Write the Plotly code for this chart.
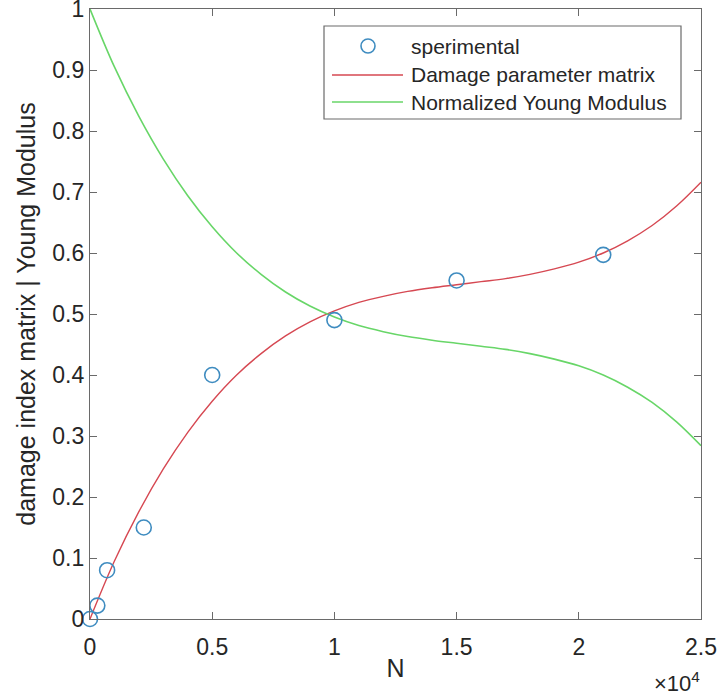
import plotly.graph_objects as go

# ---- data ----
N_exp = [0, 300, 700, 2200, 5000, 10000, 15000, 21000]
D_exp = [0.0, 0.022, 0.080, 0.150, 0.400, 0.490, 0.555, 0.597]

N_fit = [0, 1000, 2000, 3000, 4000, 5000, 6000, 7000, 8000, 9000, 10000,
         11000, 12000, 13000, 14000, 15000, 16000, 17000, 18000, 19000, 20000,
         21000, 22000, 23000, 24000, 25000]
D_fit = [0.000, 0.095, 0.176, 0.246, 0.306, 0.357, 0.400, 0.435, 0.464, 0.487, 0.505,
         0.519, 0.529, 0.537, 0.543, 0.548, 0.553, 0.558, 0.565, 0.574, 0.585,
         0.600, 0.620, 0.645, 0.677, 0.716]
E_fit = [1.000, 0.905, 0.824, 0.754, 0.694, 0.643, 0.600, 0.565, 0.536, 0.513, 0.495,
         0.481, 0.471, 0.463, 0.457, 0.452, 0.447, 0.442, 0.435, 0.426, 0.415,
         0.400, 0.380, 0.355, 0.323, 0.284]

x_ticks = [0, 5000, 10000, 15000, 20000, 25000]
x_tick_text = ["0", "0.5", "1", "1.5", "2", "2.5"]
y_ticks = [0, 0.1, 0.2, 0.3, 0.4, 0.5, 0.6, 0.7, 0.8, 0.9, 1]
y_tick_text = ["0", "0.1", "0.2", "0.3", "0.4", "0.5", "0.6", "0.7", "0.8", "0.9", "1"]

legend_labels = ["sperimental", "Damage parameter matrix", "Normalized Young Modulus"]

# ---- style ----
FONT = "Liberation Sans, Arial, Helvetica, sans-serif"
TXT = "#262626"
AX = "#6a6a6a"
C_EXP = "#3f8cc0"
C_RED = "rgb(214,72,82)"
C_GRN = "rgb(104,214,104)"

W, H = 719, 700
L, R, T, B = 90, 18, 9, 81
PW, PH = W - L - R, H - T - B

def px(xp):
    return (xp - L) / PW

def py(yp):
    return (H - B - yp) / PH

fig = go.Figure()
fig.add_trace(go.Scatter(x=N_fit, y=D_fit, mode="lines", name=legend_labels[1],
                         line=dict(color=C_RED, width=1.4, shape="spline", smoothing=1.0),
                         showlegend=False))
fig.add_trace(go.Scatter(x=N_fit, y=E_fit, mode="lines", name=legend_labels[2],
                         line=dict(color=C_GRN, width=1.6, shape="spline", smoothing=1.0),
                         showlegend=False))
fig.add_trace(go.Scatter(x=N_exp, y=D_exp, mode="markers", name=legend_labels[0],
                         marker=dict(symbol="circle-open", size=15, color=C_EXP,
                                     line=dict(width=1.6, color=C_EXP)),
                         showlegend=False, cliponaxis=False))

# ---- manual MATLAB-like legend ----
shapes = [
    dict(type="rect", xref="paper", yref="paper", x0=px(324), x1=px(681), y0=py(119), y1=py(26),
         line=dict(color=AX, width=1.2), fillcolor="white", layer="above"),
    dict(type="line", xref="paper", yref="paper", x0=px(332), x1=px(403), y0=py(75), y1=py(75),
         line=dict(color=C_RED, width=1.4), layer="above"),
    dict(type="line", xref="paper", yref="paper", x0=px(332), x1=px(403), y0=py(102), y1=py(102),
         line=dict(color=C_GRN, width=1.6), layer="above"),
    dict(type="circle", xref="paper", yref="paper", x0=px(361), x1=px(375), y0=py(53), y1=py(39),
         line=dict(color=C_EXP, width=1.6), layer="above"),
]
annotations = []
for lab, yy in zip(legend_labels, [46, 75, 102]):
    annotations.append(dict(text=lab, xref="paper", yref="paper", x=px(409), y=py(yy),
                            xanchor="left", yanchor="middle", showarrow=False,
                            font=dict(family=FONT, size=21, color=TXT)))
annotations.append(dict(text="×10<sup>4</sup>", xref="paper", yref="paper", x=px(702), y=py(682),
                        xanchor="right", yanchor="middle", showarrow=False,
                        font=dict(family=FONT, size=22, color=TXT)))

fig.update_layout(
    width=W, height=H,
    margin=dict(l=L, r=R, t=T, b=B, pad=0, autoexpand=False),
    paper_bgcolor="white", plot_bgcolor="white",
    font=dict(family=FONT, size=23, color=TXT),
    shapes=shapes, annotations=annotations,
    showlegend=False,
)
fig.update_xaxes(range=[0, 25000], tickvals=x_ticks, ticktext=x_tick_text,
                 automargin=False, ticklabeloverflow="allow", ticklabelstandoff=7,
                 showgrid=False, zeroline=False, showline=True, linecolor=AX, linewidth=1.2,
                 mirror="ticks", ticks="inside", ticklen=7, tickcolor=AX, tickwidth=1.2,
                 tickfont=dict(size=23, color=TXT),
                 title=dict(text="N", font=dict(size=25, color=TXT), standoff=0))
fig.update_yaxes(range=[0, 1], tickvals=y_ticks, ticktext=y_tick_text,
                 automargin=False, ticklabeloverflow="allow",
                 showgrid=False, zeroline=False, showline=True, linecolor=AX, linewidth=1.2,
                 mirror="ticks", ticks="inside", ticklen=7, tickcolor=AX, tickwidth=1.2,
                 tickfont=dict(size=23, color=TXT),
                 title=dict(text="damage index matrix | Young Modulus", font=dict(size=25, color=TXT), standoff=9))

fig.write_html("out.html", config={"displayModeBar": False},
               post_script="document.body.style.margin='0';")
